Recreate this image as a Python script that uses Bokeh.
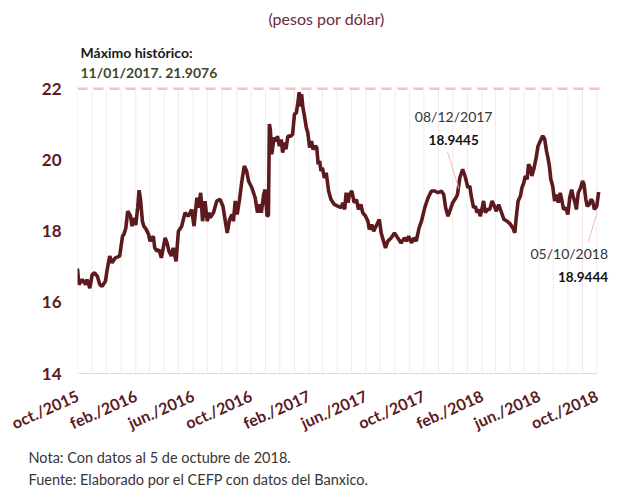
import pandas as pd
from bokeh.plotting import figure
from bokeh.models import Range1d, FixedTicker, Label, Title
from bokeh.embed import file_html
from bokeh.resources import INLINE

# ---------------- data ----------------
dates = [
    "2015-10-01", "2015-10-04", "2015-10-11", "2015-10-18", "2015-10-21", "2015-10-27",
    "2015-11-01", "2015-11-06", "2015-11-12", "2015-11-17", "2015-11-22", "2015-11-29",
    "2015-12-02", "2015-12-08", "2015-12-13", "2015-12-20", "2015-12-29",
    "2016-01-04", "2016-01-07", "2016-01-11", "2016-01-15", "2016-01-21", "2016-01-24", "2016-01-28",
    "2016-02-01", "2016-02-05", "2016-02-08", "2016-02-11", "2016-02-15", "2016-02-18", "2016-02-23", "2016-02-28",
    "2016-03-02", "2016-03-09", "2016-03-12", "2016-03-17", "2016-03-21", "2016-03-26",
    "2016-04-03", "2016-04-07", "2016-04-11", "2016-04-16", "2016-04-20", "2016-04-26",
    "2016-05-01", "2016-05-08", "2016-05-15", "2016-05-22", "2016-05-29",
    "2016-06-03", "2016-06-09", "2016-06-12", "2016-06-17", "2016-06-21", "2016-06-26",
    "2016-07-01", "2016-07-05", "2016-07-07", "2016-07-14", "2016-07-21", "2016-07-28",
    "2016-08-03", "2016-08-08", "2016-08-12", "2016-08-17", "2016-08-22", "2016-08-25", "2016-08-29",
    "2016-09-02", "2016-09-07", "2016-09-12", "2016-09-17", "2016-09-22", "2016-09-26",
    "2016-10-03", "2016-10-10", "2016-10-15", "2016-10-19", "2016-10-23", "2016-10-28", "2016-10-31",
    "2016-11-04", "2016-11-07", "2016-11-09", "2016-11-11", "2016-11-14", "2016-11-19", "2016-11-23", "2016-11-26", "2016-11-30",
    "2016-12-04", "2016-12-07", "2016-12-11", "2016-12-14", "2016-12-18", "2016-12-24", "2016-12-28",
    "2017-01-01", "2017-01-05", "2017-01-08", "2017-01-11", "2017-01-13", "2017-01-16", "2017-01-19", "2017-01-22", "2017-01-26", "2017-01-29",
    "2017-02-02", "2017-02-06", "2017-02-09", "2017-02-14", "2017-02-17", "2017-02-20", "2017-02-23", "2017-02-26",
    "2017-03-01", "2017-03-05", "2017-03-09", "2017-03-14", "2017-03-19", "2017-03-26",
    "2017-04-03", "2017-04-10", "2017-04-13", "2017-04-17", "2017-04-20", "2017-04-24", "2017-04-27",
    "2017-05-02", "2017-05-07", "2017-05-12", "2017-05-16", "2017-05-21", "2017-05-25", "2017-05-31",
    "2017-06-05", "2017-06-08", "2017-06-13", "2017-06-17", "2017-06-22", "2017-06-29",
    "2017-07-03", "2017-07-06", "2017-07-12", "2017-07-17", "2017-07-24", "2017-07-31",
    "2017-08-07", "2017-08-14", "2017-08-21", "2017-08-26", "2017-08-30",
    "2017-09-05", "2017-09-10", "2017-09-15", "2017-09-21", "2017-09-26",
    "2017-10-03", "2017-10-10", "2017-10-17", "2017-10-24", "2017-10-31",
    "2017-11-07", "2017-11-12", "2017-11-16", "2017-11-21", "2017-11-26",
    "2017-12-01", "2017-12-08", "2017-12-11", "2017-12-16", "2017-12-22", "2017-12-28",
    "2018-01-02", "2018-01-06", "2018-01-09", "2018-01-14", "2018-01-18", "2018-01-21", "2018-01-25", "2018-01-28",
    "2018-02-02", "2018-02-04", "2018-02-08", "2018-02-12", "2018-02-17", "2018-02-22", "2018-02-27",
    "2018-03-03", "2018-03-08", "2018-03-13", "2018-03-19", "2018-03-26",
    "2018-04-02", "2018-04-07", "2018-04-11", "2018-04-14", "2018-04-18", "2018-04-23", "2018-04-26", "2018-04-30",
    "2018-05-03", "2018-05-07", "2018-05-10", "2018-05-14", "2018-05-17", "2018-05-21", "2018-05-26", "2018-05-30",
    "2018-06-04", "2018-06-09", "2018-06-13", "2018-06-17", "2018-06-20", "2018-06-23", "2018-06-26", "2018-06-30",
    "2018-07-04", "2018-07-09", "2018-07-12", "2018-07-16", "2018-07-19", "2018-07-23", "2018-07-28",
    "2018-08-01", "2018-08-05", "2018-08-09", "2018-08-12", "2018-08-16", "2018-08-19", "2018-08-23", "2018-08-28",
    "2018-09-01", "2018-09-04", "2018-09-08", "2018-09-11", "2018-09-15", "2018-09-19", "2018-09-22", "2018-09-26",
    "2018-10-01", "2018-10-05",
]
pesos = [
    16.95, 16.50, 16.64, 16.50, 16.64, 16.40,
    16.78, 16.83, 16.73, 16.50, 16.45, 16.59,
    16.87, 17.30, 17.11, 17.25, 17.30,
    17.86, 17.91, 18.09, 18.56, 18.42, 18.14, 18.37,
    18.17, 18.66, 19.15, 18.89, 18.28, 18.14, 18.05, 17.91,
    17.72, 17.86, 17.53, 17.44, 17.48, 17.25,
    17.81, 17.67, 17.44, 17.30, 17.53, 17.15,
    18.00, 18.14, 18.52, 18.42, 18.61,
    18.14, 18.94, 18.66, 19.08, 18.28, 18.84,
    18.28, 18.52, 18.38, 18.52, 18.85, 18.89,
    18.70, 18.28, 17.95, 18.33, 18.47, 18.28, 18.85,
    18.47, 18.89, 19.41, 19.83, 19.69, 19.41,
    19.22, 18.94, 18.52, 18.75, 18.52, 19.03, 19.17,
    18.42, 18.45, 21.01, 20.86, 20.16, 20.63, 20.53, 20.67, 20.39,
    20.58, 20.21, 20.49, 20.30, 20.67, 20.67, 20.72,
    21.29, 21.33, 21.60, 21.9076, 21.50, 21.85, 21.45, 21.24, 20.91, 20.77,
    20.35, 20.53, 20.30, 20.39, 20.35, 19.88, 19.97, 19.69,
    19.78, 19.50, 19.64, 19.13, 18.89, 18.75,
    18.70, 18.66, 18.80, 18.61, 19.08, 18.80, 19.03,
    19.13, 18.80, 18.89, 18.61, 18.75, 18.52, 18.42,
    18.28, 18.05, 18.19, 18.00, 18.14, 18.33,
    17.95, 17.81, 17.53, 17.72, 17.81, 17.95,
    17.81, 17.67, 17.81, 17.72, 17.86,
    17.67, 17.81, 17.72, 18.09, 18.28,
    18.66, 18.94, 19.13, 19.13, 19.08,
    19.13, 19.03, 18.66, 18.42, 18.61,
    18.80, 18.9445, 19.03, 19.50, 19.74, 19.50,
    19.22, 19.27, 18.99, 18.66, 18.70, 18.52, 18.61, 18.42,
    18.70, 18.85, 18.52, 18.61, 18.61, 18.85, 18.70,
    18.56, 18.75, 18.56, 18.33, 18.28,
    18.19, 18.09, 17.95, 18.38, 18.85, 18.99, 19.22, 19.36,
    19.55, 19.46, 19.88, 19.78, 19.55, 19.74, 20.06, 20.39,
    20.54, 20.68, 20.59, 20.25, 20.06, 19.83, 19.46, 19.27,
    18.85, 19.03, 18.80, 19.08, 18.89, 18.61, 18.66,
    18.47, 18.94, 19.17, 18.99, 18.80, 18.61, 19.08, 19.22,
    19.41, 19.32, 18.89, 18.70, 18.75, 18.89, 18.85, 18.61,
    18.70, 19.10,
]

y_ticks = [14, 16, 18, 20, 22]
tick_dates = ["2015-10-01", "2016-02-01", "2016-06-01", "2016-10-01", "2017-02-01",
              "2017-06-01", "2017-10-01", "2018-02-01", "2018-06-01", "2018-10-01"]
tick_labels = ["oct./2015", "feb./2016", "jun./2016", "oct./2016", "feb./2017",
               "jun./2017", "oct./2017", "feb./2018", "jun./2018", "oct./2018"]

max_date = "2017-01-11"
max_value = 21.9076
ref_line = 22
ref_line_end = "2018-10-20"
annot_dates = ["2017-12-08", "2018-10-05"]
annot_values = [18.9445, 18.9444]
annot_labels = ["08/12/2017", "05/10/2018"]

title_text = "(pesos por dólar)"
max_title = "Máximo histórico:"
note_lines = ["Nota: Con datos al 5 de octubre de 2018.",
              "Fuente: Elaborado por el CEFP con datos del Banxico."]

# ---------------- style ----------------
MAROON = "#5c1a1f"
LABEL_COL = "#5a1b22"
FONT = "Lato"
Y0 = 13.972          # one pixel below 14 so the baseline is visible
Y1 = 24.483


def ms(d):
    return float(pd.Timestamp(d).value // 10**6)


def ts(d, days=0):
    return pd.Timestamp(d) + pd.Timedelta(days=days)


x = pd.to_datetime(dates)
months = pd.date_range(tick_dates[0], tick_dates[-1], freq="MS")

p = figure(width=610, height=488, x_axis_type="datetime",
           x_range=Range1d(ts(dates[0]), ts("2018-10-30")),
           y_range=Range1d(Y0, Y1),
           output_backend="svg", toolbar_location=None,
           min_border_left=77, min_border_right=0, min_border_top=0, min_border_bottom=114)
p.outline_line_color = None
p.background_fill_color = "white"
p.border_fill_color = "white"
p.xgrid.grid_line_color = None
p.ygrid.grid_line_color = None

# y axis
p.yaxis.ticker = FixedTicker(ticks=y_ticks)
p.yaxis.axis_line_color = None
p.yaxis.major_tick_line_color = None
p.yaxis.minor_tick_line_color = None
p.yaxis.major_tick_out = 0
p.yaxis.major_tick_in = 0
p.yaxis.major_label_standoff = 16
p.yaxis.major_label_text_font = FONT
p.yaxis.major_label_text_font_style = "bold"
p.yaxis.major_label_text_font_size = "17px"
p.yaxis.major_label_text_color = LABEL_COL

# x axis
p.xaxis.ticker = FixedTicker(ticks=[ms(d) for d in tick_dates])
p.xaxis.major_label_overrides = {ms(d): lab for d, lab in zip(tick_dates, tick_labels)}
p.xaxis.major_label_orientation = 0.42
p.xaxis.axis_line_color = None
p.xaxis.major_tick_line_color = None
p.xaxis.minor_tick_line_color = None
p.xaxis.major_tick_out = 0
p.xaxis.major_tick_in = 0
p.xaxis.major_label_standoff = 20
p.xaxis.major_label_text_font = FONT
p.xaxis.major_label_text_font_style = "bold"
p.xaxis.major_label_text_font_size = "16px"
p.xaxis.major_label_text_color = LABEL_COL

# footnotes as titles stacked below the axis
note_standoff = [4, 2]
for line, so in zip(note_lines, note_standoff):
    p.add_layout(Title(text=line, align="left", offset=-49, standoff=so,
                       text_font=FONT, text_font_size="14.5px", text_font_style="normal",
                       text_color="#3a3535"), "below")

# monthly vertical gridlines (from 14 up to the reference line) and baseline
p.segment(x0=months, y0=y_ticks[0], x1=months, y1=ref_line, line_color="#f5e9eb", line_width=1)
p.line([months[0], months[-1]], [y_ticks[0], y_ticks[0]], line_color="#ecd6da", line_width=1)

# historic maximum reference line
p.line([ts(dates[0]), ts(ref_line_end)], [ref_line, ref_line], line_color="#f2c2c7",
       line_width=2.5, line_dash="10 6")

# series
p.line(x, pesos, line_color=MAROON, line_width=3.6)

# annotation connectors (offsets in days / pesos from the annotated point)
conn_dx0 = [6, -3]
conn_dx1 = [-18, -22]
conn_dy0 = [0.25, -0.41]
conn_dy1 = [1.28, -1.25]
p.segment(x0=[ts(d, o) for d, o in zip(annot_dates, conn_dx0)],
          y0=[v + a for v, a in zip(annot_values, conn_dy0)],
          x1=[ts(d, o) for d, o in zip(annot_dates, conn_dx1)],
          y1=[v + b for v, b in zip(annot_values, conn_dy1)],
          line_color="#f0b8bf", line_width=1)

# annotation labels (offsets in days / pesos from the annotated point)
date_dx = [-5, -62]
value_dx = [-5, -33]
date_dy = [2.28, -1.57]
value_dy = [1.63, -2.22]
for d, v, txt, dx1, dx2, dy1, dy2 in zip(annot_dates, annot_values, annot_labels,
                                         date_dx, value_dx, date_dy, value_dy):
    p.add_layout(Label(x=ts(d, dx1), y=v + dy1, text=txt, text_align="center", text_baseline="middle",
                       text_font=FONT, text_font_size="14px", text_color="#333333"))
    p.add_layout(Label(x=ts(d, dx2), y=v + dy2, text=f"{v:.4f}", text_align="center",
                       text_baseline="middle", text_font=FONT, text_font_size="13.5px",
                       text_font_style="bold", text_color="#111111"))

# header texts (screen units relative to the frame's lower-left corner)
p.add_layout(Label(x=249, y=356, x_units="screen", y_units="screen", text=title_text,
                   text_align="center", text_baseline="middle", text_font=FONT,
                   text_font_size="16px", text_color="#6e2a3a"))
p.add_layout(Label(x=3, y=322, x_units="screen", y_units="screen", text=max_title,
                   text_align="left", text_baseline="middle", text_font=FONT,
                   text_font_size="14px", text_font_style="bold", text_color="#1a1a1a"))
p.add_layout(Label(x=3, y=302, x_units="screen", y_units="screen",
                   text=f"{pd.Timestamp(max_date).strftime('%d/%m/%Y')}. {max_value}",
                   text_align="left", text_baseline="middle", text_font=FONT,
                   text_font_size="14px", text_font_style="bold", text_color="#3e4a2a"))

open("out.html", "w").write(file_html(p, INLINE))
